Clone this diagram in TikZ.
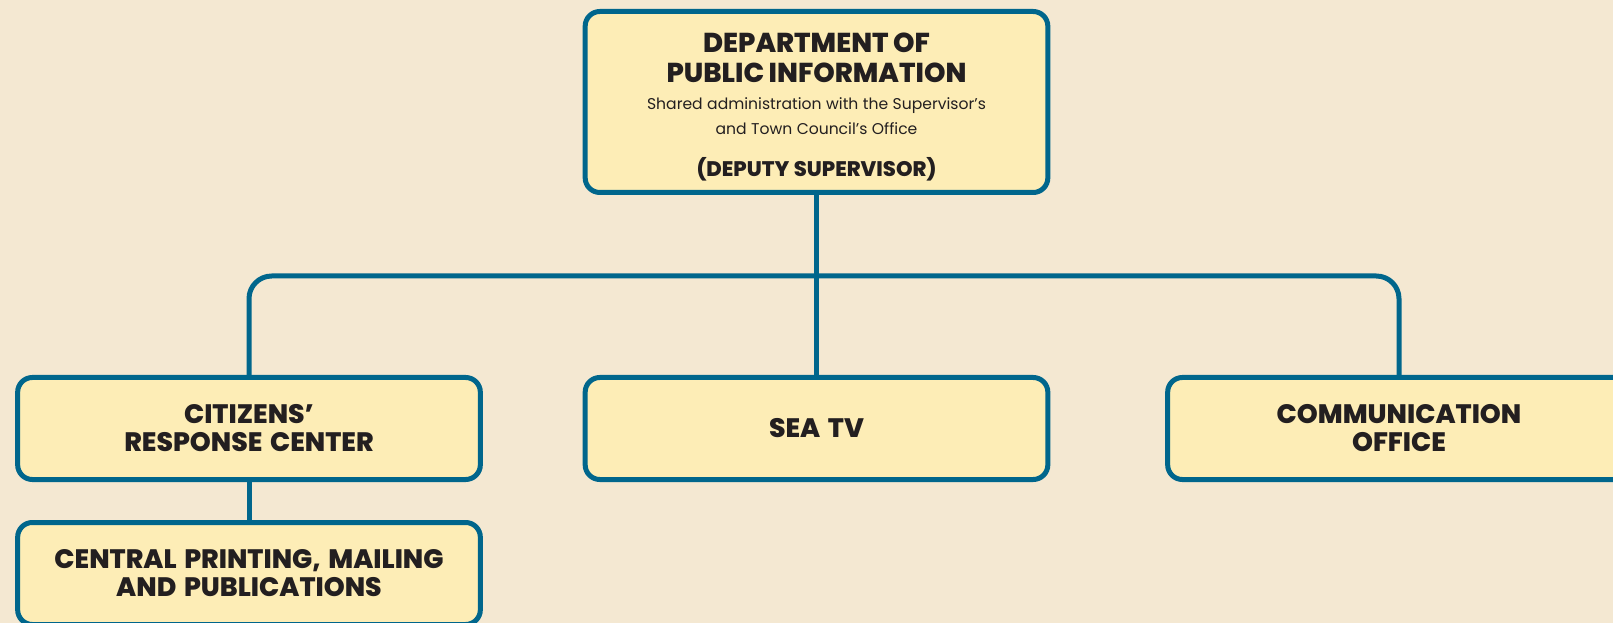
\documentclass[tikz,border=0pt]{standalone}
\usepackage{fontspec}
\setmainfont{Poppins}[BoldFont={* ExtraBold}, BoldFeatures={WordSpace=1.5}]
\usetikzlibrary{positioning}
\definecolor{pagebg}{HTML}{F4E8D2}
\definecolor{unitfill}{HTML}{FDEDB6}
\definecolor{linkblue}{HTML}{00668C}
\definecolor{inkdark}{HTML}{231F20}
\newcommand\unitfont{\fontsize{20}{21}\selectfont\bfseries}
\newcommand\headfont{\fontsize{20.5}{22.5}\selectfont\bfseries}
\newcommand\notefont{\fontsize{11.7}{18.75}\selectfont\mdseries}
\newcommand\deputyfont{\fontsize{15.8}{18}\selectfont\bfseries}

\begin{document}
\begin{tikzpicture}[x=0.75pt, y=-0.75pt,
    every node/.style={text=inkdark},
    unitbox/.style={draw=linkblue, fill=unitfill, line width=3.75pt, rounded corners=11pt, minimum width=347pt, minimum height=76.5pt, align=center, font=\unitfont},
    headbox/.style={unitbox, minimum height=135.75pt},
    link/.style={draw=linkblue, line width=3.75pt}
  ]
  \useasboundingbox (0,0) rectangle (1613,623);
  \clip (0,0) rectangle (1613,623);
  \fill[pagebg] (0,0) rectangle (1613,623);

  % top: department
  \node[headbox] (dpi) at (816.5,102) {};
  \node[align=center, text width=330pt, inner sep=0pt] (dpitext) at (816.5,107) {%
    \headfont DEPARTMENT OF\\PUBLIC INFORMATION\par
    \vspace{1.5pt}\notefont Shared administration with the Supervisor’s\\and Town Council’s Office\par
    \vspace{13.5pt}\deputyfont (DEPUTY SUPERVISOR)\par};

  % second row
  \node[unitbox] (crc) at (249,428.5) {CITIZENS’\\RESPONSE CENTER};
  \node[unitbox] (sea) at (816.5,428.5) {SEA TV};
  \node[unitbox] (com) at (1399,428.5) {COMMUNICATION\\OFFICE};

  % third row
  \node[unitbox] (cpm) at (249,573.5) {CENTRAL PRINTING, MAILING\\AND PUBLICATIONS};

  % connectors
  \coordinate (hub) at (817,276);
  \draw[link, rounded corners=17pt] (crc.north) |- (hub) -| (com.north);
  \draw[link] (dpi.south) -- (sea.north);
  \draw[link] (crc.south) -- (cpm.north);
\end{tikzpicture}
\end{document}
